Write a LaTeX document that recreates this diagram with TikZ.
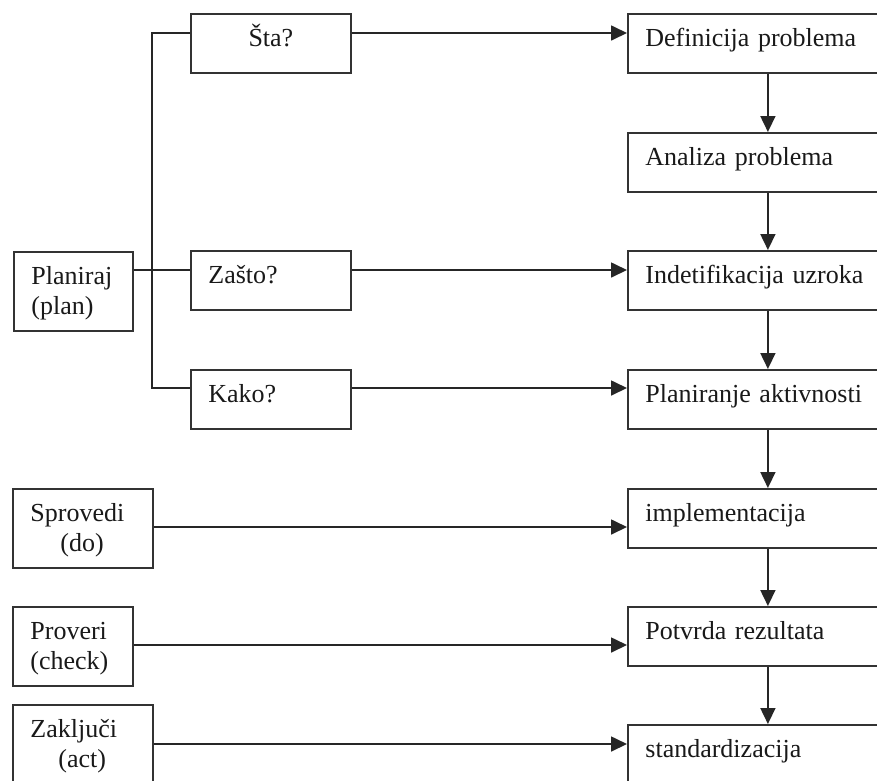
\documentclass[tikz,border=0pt]{standalone}
\usepackage{fontspec}
\setmainfont{Liberation Serif}
\usetikzlibrary{arrows.meta,calc}
\begin{document}
\begin{tikzpicture}[x=1pt,y=-1pt,
  box/.style={draw=black!80, line width=1.8pt, rectangle, anchor=north west,
    inner xsep=17.5pt, inner ysep=0pt, text height=33pt,
    font=\fontsize{26pt}{29.5pt}\selectfont, align=left, text=black!90},
  one/.style={text depth=26pt},
  two/.style={text depth=46pt},
  conn/.style={line width=1.7pt, draw=black!85},
  arr/.style={conn, -{Triangle[length=16pt,width=15pt]}}
]
\path[use as bounding box, fill=white] (0,0) rectangle (877,780);
\clip (0,0) rectangle (877,780);

% left column
\node[box, two, text width=84pt] (plan) at (13,251) {Planiraj\\(plan)};
\node[box, two, text width=105pt] (spr) at (12,488) {Sprovedi\\\hspace*{30pt}(do)};
\node[box, two, text width=85pt] (pro) at (12,606) {Proveri\\(check)};
\node[box, two, text width=105pt] (zak) at (12,704) {Zaključi\\\hspace*{28pt}(act)};

% middle column
\node[box, one, text width=125pt, align=center] (sta) at (190,13) {Šta?};
\node[box, one, text width=125pt] (zasto) at (190,250) {Zašto?};
\node[box, one, text width=125pt] (kako) at (190,369) {Kako?};

% right column
\node[box, one, text width=245pt] (def) at (627,13) {Definicija problema};
\node[box, one, text width=245pt] (ana) at (627,132) {Analiza problema};
\node[box, one, text width=245pt] (ind) at (627,250) {Indetifikacija uzroka};
\node[box, one, text width=245pt] (pla) at (627,369) {Planiranje aktivnosti};
\node[box, one, text width=245pt] (imp) at (627,488) {implementacija};
\node[box, one, text width=245pt] (pot) at (627,606) {Potvrda rezultata};
\node[box, one, text width=245pt] (std) at (627,724) {standardizacija};

% bracket
\coordinate (bus) at (152,200);
\draw[conn] ([yshift=-20pt]sta.north west) -| (bus) |- ([yshift=-19pt]kako.north west);
\draw[conn] ([yshift=-19pt]plan.north east) -- ([yshift=-20pt]zasto.north west);

% horizontal arrows
\draw[arr] ([yshift=-20pt]sta.north east) -- ([yshift=-20pt]def.north west);
\draw[arr] ([yshift=-20pt]zasto.north east) -- ([yshift=-20pt]ind.north west);
\draw[arr] ([yshift=-19pt]kako.north east) -- ([yshift=-19pt]pla.north west);
\draw[arr] ([yshift=-39pt]spr.north east) -- ([yshift=-39pt]imp.north west);
\draw[arr] ([yshift=-39pt]pro.north east) -- ([yshift=-39pt]pot.north west);
\draw[arr] ([yshift=-40pt]zak.north east) -- ([yshift=-20pt]std.north west);

% vertical arrows
\draw[arr] (def.south) -- (ana.north);
\draw[arr] (ana.south) -- (ind.north);
\draw[arr] (ind.south) -- (pla.north);
\draw[arr] (pla.south) -- (imp.north);
\draw[arr] (imp.south) -- (pot.north);
\draw[arr] (pot.south) -- (std.north);
\end{tikzpicture}
\end{document}
